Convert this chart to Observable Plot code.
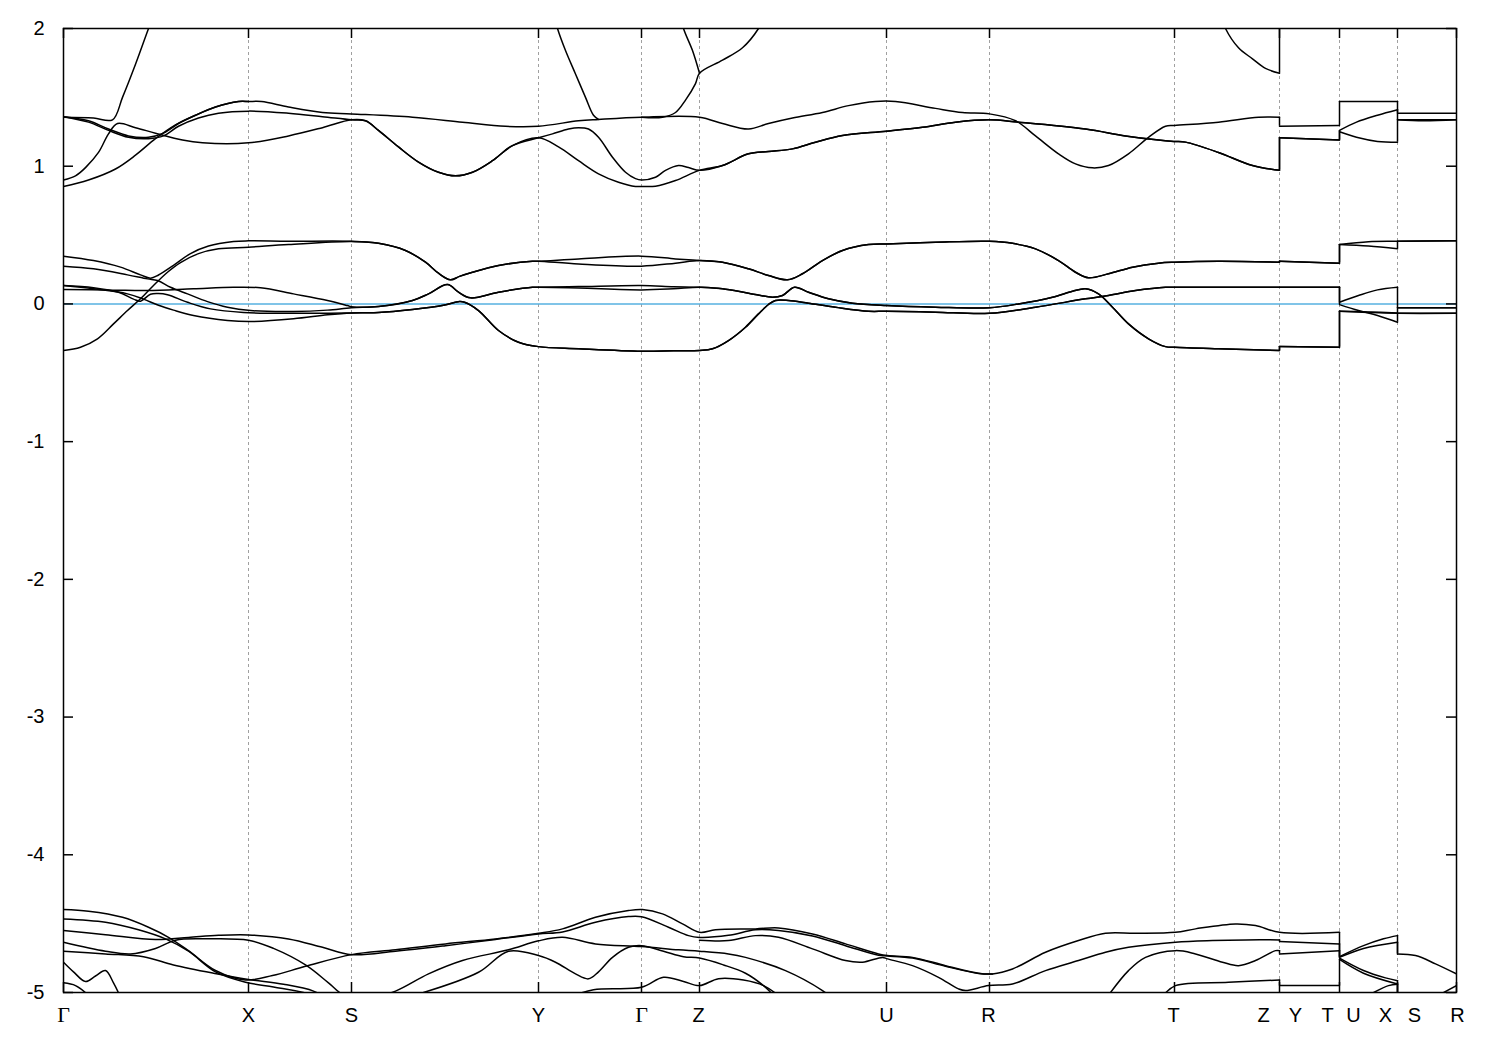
<!DOCTYPE html>
<html><head><meta charset="utf-8">
<script src="https://cdn.jsdelivr.net/npm/d3@7"></script>
<script src="https://cdn.jsdelivr.net/npm/@observablehq/plot@0.6"></script>
<style>body{margin:0;background:#fff}</style>
</head><body><div id="chart"></div>
<script>
// high-symmetry points along the path (path coordinate k)
const kTicks = [0, 1.85, 2.88, 4.75, 5.78, 6.36, 8.23, 9.26, 11.11, 12.16, 12.76, 13.34, 13.93];
const labelNames = ["Γ","X","S","Y","Γ","Z","U","R","T","Z","Y","T","U","X","S","R"];
const labelK = [0, 1.85, 2.88, 4.75, 5.78, 6.35, 8.23, 9.25, 11.10, 12.00, 12.32, 12.64, 12.90, 13.22, 13.51, 13.94];
const yTicks = [-5, -4, -3, -2, -1, 0, 1, 2];
const fermi = [0];

// shared pieces of the conduction bands
const cSYdip = [[3.02,1.33],[3.15,1.26],[3.35,1.14],[3.55,1.03],[3.75,0.956],[3.92,0.93],[4.09,0.956],[4.29,1.04],[4.49,1.15],[4.75,1.206]];
const cZUtoZ = [[6.59,1.005],[6.85,1.09],[7.05,1.107],[7.29,1.126],[7.52,1.174],[7.79,1.223],[8.23,1.254],[8.59,1.283],[8.92,1.32],[9.26,1.337],
  [9.55,1.32],[10.22,1.27],[10.62,1.22],[10.95,1.19],[11.11,1.18],[11.22,1.175],[11.55,1.10],[11.89,1.005],[12.16,0.97],
  [12.16,1.206],[12.76,1.19]];

const cbA = [[0,1.36],[0.25,1.33],[0.45,1.27],[0.65,1.22],[0.85,1.21],[1.0,1.24],[1.15,1.31],[1.32,1.37],[1.52,1.43],[1.75,1.47],[1.85,1.47],[1.98,1.47],[2.25,1.43],[2.59,1.39],[2.88,1.38],
  [3.49,1.356],[3.99,1.32],[4.42,1.29],[4.75,1.29],[5.15,1.33],[5.35,1.34],[5.78,1.356],
  [6.36,1.356],[6.59,1.31],[6.85,1.27],[7.05,1.31],[7.29,1.35],[7.59,1.39],[7.85,1.44],[8.12,1.47],[8.32,1.47],[8.72,1.42],[8.99,1.39],[9.26,1.38],
  [9.52,1.33],[9.72,1.22],[9.95,1.09],[10.12,1.017],[10.29,0.988],[10.45,1.005],[10.65,1.09],[10.85,1.21],[11.02,1.29],[11.11,1.296],[11.55,1.32],[11.95,1.356],[12.16,1.356],
  [12.16,1.29],[12.76,1.296],
  [12.76,1.47],[13.34,1.47],
  [13.34,1.385],[13.93,1.385]];
const cbB = [[0,1.36],[0.25,1.32],[0.45,1.26],[0.65,1.21],[0.85,1.20],[1.0,1.22],[1.15,1.29],[1.35,1.35],[1.55,1.385],[1.85,1.40],[2.25,1.385],[2.59,1.36],[2.88,1.337],
  ...cSYdip,
  [4.89,1.235],[5.05,1.27],[5.15,1.28],[5.25,1.27],[5.35,1.21],[5.49,1.065],[5.62,0.956],[5.72,0.91],[5.78,0.90],
  [5.92,0.92],[6.02,0.97],[6.15,1.005],[6.25,0.99],[6.36,0.97],
  ...cZUtoZ,
  [12.76,1.26],[12.93,1.32],[13.14,1.37],[13.34,1.41],
  [13.34,1.337],[13.6,1.33],[13.93,1.337]];
const cbC = [[0,0.90],[0.12,0.93],[0.22,0.99],[0.35,1.10],[0.45,1.235],[0.54,1.31],[0.72,1.28],[0.92,1.24],[1.19,1.19],[1.39,1.17],[1.85,1.17],[2.25,1.22],[2.59,1.28],[2.88,1.337],
  ...cSYdip,
  [4.95,1.14],[5.15,1.04],[5.35,0.945],[5.55,0.884],[5.72,0.853],[5.78,0.853],
  [5.92,0.855],[6.12,0.896],[6.36,0.97],
  ...cZUtoZ,
  [12.76,1.25],[12.93,1.21],[13.14,1.18],[13.34,1.174],
  [13.34,1.337],[13.93,1.337]];
const cbD = [[0,0.853],[0.25,0.90],[0.52,0.98],[0.72,1.08],[0.92,1.20],[1.12,1.30],[1.32,1.37],[1.52,1.43],[1.75,1.47],[1.85,1.47]];
const hi1 = [[0,1.356],[0.30,1.35],[0.49,1.337],[0.59,1.50],[0.72,1.74],[0.85,2.0],[0.93,2.16]];
const hi2 = [[4.87,2.2],[4.94,2.0],[5.02,1.84],[5.12,1.67],[5.22,1.50],[5.30,1.37],[5.35,1.34]];
const hi3 = [[5.78,1.356],[5.99,1.356],[6.12,1.39],[6.22,1.48],[6.32,1.60],[6.36,1.675],[6.59,1.77],[6.79,1.86],[6.95,2.0],[7.03,2.12]];
const hi4 = [[6.15,2.15],[6.20,2.0],[6.29,1.84],[6.36,1.675]];
const hi5 = [[11.55,2.15],[11.62,2.0],[11.75,1.86],[11.89,1.78],[12.02,1.71],[12.16,1.675],[12.16,2.3]];

// bands around the Fermi level
const vTopSYG = [[3.15,0.44],[3.42,0.388],[3.62,0.303],[3.75,0.223],[3.87,0.175],[3.96,0.20],[4.09,0.23],[4.35,0.279],[4.69,0.31],[4.75,0.31]];
const vTopZUR = [[6.59,0.303],[6.85,0.255],[7.05,0.206],[7.24,0.175],[7.39,0.219],[7.59,0.315],[7.79,0.388],[8.05,0.431],[8.23,0.436],[8.72,0.448],[9.26,0.455],
  [9.49,0.44],[9.72,0.40],[9.95,0.315],[10.12,0.23],[10.25,0.19],[10.45,0.219],[10.69,0.267],[10.95,0.296],[11.11,0.303],[11.55,0.31],[12.16,0.303],
  [12.16,0.31],[12.76,0.296]];
const vMidSYG = [[3.15,-0.019],[3.49,0.025],[3.65,0.073],[3.84,0.141],[3.95,0.085],[4.07,0.044],[4.35,0.085],[4.69,0.121],[4.75,0.121]];
const vMidZUR = [[6.59,0.11],[6.85,0.078],[7.09,0.049],[7.19,0.061],[7.31,0.121],[7.45,0.085],[7.65,0.037],[7.89,0.005],[8.23,-0.012],[8.72,-0.024],[9.26,-0.028],
  [9.55,0.0],[9.89,0.049],[10.09,0.092],[10.22,0.11],[10.35,0.073],[10.49,-0.024],[10.65,-0.145],[10.85,-0.253],[11.02,-0.31],[11.11,-0.315],[11.55,-0.326],[12.16,-0.338],
  [12.16,-0.31],[12.76,-0.315]];
const vLowSYG = [[3.15,-0.062],[3.49,-0.04],[3.80,-0.01],[3.96,0.017],[4.01,0.012],[4.15,-0.048],[4.35,-0.193],[4.55,-0.278],[4.75,-0.31],[5.15,-0.325],[5.78,-0.343]];
const vLowZUR = [[6.36,-0.338],[6.49,-0.326],[6.65,-0.266],[6.82,-0.169],[6.95,-0.072],[7.05,-0.004],[7.12,0.025],[7.25,0.025],[7.45,0.005],[7.72,-0.024],[8.05,-0.053],[8.23,-0.053],[8.72,-0.06],[9.26,-0.068],
  [9.72,-0.024],[10.22,0.037],[10.45,0.061],[10.72,0.097],[11.02,0.121],[11.11,0.121],[12.16,0.121],
  [12.76,0.121]];

const vb1 = [[0,0.347],[0.30,0.315],[0.57,0.267],[0.77,0.211],[0.87,0.187],[0.95,0.21],[1.10,0.28],[1.27,0.365],[1.45,0.42],[1.70,0.453],[1.85,0.458],[2.25,0.455],[2.88,0.455],
  ...vTopSYG,[5.15,0.327],[5.78,0.347],[6.12,0.327],[6.36,0.315],...vTopZUR,
  [12.76,0.431],[13.05,0.452],[13.34,0.455],[13.93,0.458]];
const vb3 = [[0,-0.338],[0.17,-0.314],[0.34,-0.253],[0.50,-0.145],[0.64,-0.048],[0.77,0.037],[0.90,0.134],[1.04,0.23],[1.17,0.30],[1.35,0.365],[1.55,0.40],[1.85,0.412],[2.25,0.431],[2.88,0.453],
  ...vTopSYG,[5.15,0.29],[5.78,0.274],[6.12,0.296],[6.36,0.315],...vTopZUR,
  [12.76,0.431],[13.05,0.42],[13.34,0.40],[13.34,0.455],[13.93,0.458]];
const vb2 = [[0,0.274],[0.30,0.255],[0.64,0.211],[0.84,0.182],[0.94,0.17],[1.07,0.121],[1.24,0.073],[1.44,0.017],[1.64,-0.024],[1.87,-0.048],[2.30,-0.055],[2.64,-0.045],[2.88,-0.028],
  ...vMidSYG,[5.15,0.115],[5.78,0.102],[6.1,0.11],[6.36,0.121],...vMidZUR,
  [12.76,-0.053],[13.05,-0.062],[13.34,-0.068],[13.93,-0.068]];
const vb5 = [[0,0.105],[0.5,0.10],[0.84,0.097],[1.30,0.11],[1.70,0.121],[1.97,0.117],[2.30,0.073],[2.64,0.025],[2.84,-0.012],[2.88,-0.02],
  ...vMidSYG,[5.15,0.126],[5.78,0.134],[6.1,0.125],[6.36,0.121],...vMidZUR,
  [12.76,-0.053],[13.05,-0.058],[13.34,-0.065],[13.34,-0.028],[13.93,-0.028]];
const vb4 = [[0,0.134],[0.30,0.11],[0.64,0.073],[0.80,0.035],[0.95,-0.01],[1.10,-0.045],[1.30,-0.084],[1.64,-0.12],[1.87,-0.128],[2.30,-0.108],[2.64,-0.079],[2.88,-0.065],
  ...vLowSYG,[6.1,-0.34],...vLowZUR,
  [12.76,0.012],[12.95,0.061],[13.14,0.102],[13.34,0.121],[13.34,-0.028],[13.93,-0.028]];
const vb6 = [[0,0.134],[0.30,0.118],[0.55,0.085],[0.70,0.035],[0.77,0.02],[0.87,0.07],[0.95,0.075],[1.04,0.066],[1.24,0.012],[1.47,-0.036],[1.80,-0.062],[2.30,-0.068],[2.88,-0.065],
  ...vLowSYG,[6.1,-0.34],...vLowZUR,
  [12.76,-0.005],[12.95,-0.048],[13.14,-0.084],[13.34,-0.133],[13.34,-0.068],[13.93,-0.068]];

// deep bands near -4.4 .. -5
const bA = [[0,-4.398],[0.25,-4.41],[0.59,-4.454],[0.85,-4.526],[1.05,-4.599],[1.25,-4.696],[1.52,-4.84],[1.82,-4.909],[2.09,-4.877],[2.42,-4.81],[2.88,-4.725],
  [3.32,-4.69],[3.82,-4.647],[4.32,-4.611],[4.75,-4.57],[4.99,-4.538],[5.32,-4.454],[5.65,-4.405],[5.79,-4.398],[5.99,-4.429],[6.19,-4.502],[6.36,-4.563],[6.52,-4.545],[6.92,-4.538],
  [7.15,-4.531],[7.49,-4.575],[7.82,-4.647],[8.15,-4.72],[8.24,-4.732],[8.49,-4.745],[8.82,-4.805],[9.15,-4.86],[9.29,-4.865],[9.49,-4.829],[9.82,-4.708],[10.15,-4.623],[10.42,-4.57],
  [10.72,-4.57],[11.12,-4.563],[11.32,-4.538],[11.72,-4.502],[11.92,-4.514],[12.16,-4.563],[12.76,-4.563],
  [12.76,-4.74],[13.0,-4.66],[13.2,-4.61],[13.34,-4.587],[13.34,-4.72],[13.52,-4.732],[13.72,-4.792],[13.93,-4.865]];
const bB = [[0,-4.466],[0.42,-4.49],[0.75,-4.545],[1.02,-4.611],[1.25,-4.70],[1.52,-4.85],[1.82,-4.925],[2.1,-4.96],[2.4,-5.0],[2.6,-5.05]];
const bC = [[0,-4.55],[0.42,-4.58],[0.92,-4.615],[1.25,-4.60],[1.55,-4.585],[1.85,-4.582],[2.25,-4.611],[2.59,-4.672],[2.88,-4.725],
  [3.32,-4.70],[3.82,-4.66],[4.32,-4.615],[4.75,-4.575],[4.99,-4.56],[5.32,-4.49],[5.65,-4.449],[5.78,-4.45],[6.05,-4.526],[6.25,-4.587],[6.36,-4.60],
  [6.65,-4.585],[6.92,-4.545],[7.15,-4.55],[7.49,-4.59],[7.82,-4.66],[8.15,-4.73],[8.24,-4.735],[8.49,-4.75],[8.82,-4.81],[9.15,-4.862],[9.29,-4.866]];
const bD = [[0,-4.635],[0.42,-4.70],[0.67,-4.72],[0.92,-4.68],[1.12,-4.62],[1.42,-4.61],[1.85,-4.62],[2.1,-4.68],[2.42,-4.80],[2.65,-4.93],[2.80,-5.02],[2.95,-5.06]];
const bE = [[3.0,-5.06],[3.32,-4.99],[3.65,-4.865],[3.99,-4.768],[4.45,-4.69],[4.75,-4.625],[4.99,-4.599],[5.32,-4.647],[5.78,-4.666],[6.15,-4.69],[6.36,-4.70],[6.65,-4.72],
  [6.82,-4.745],[7.22,-4.841],[7.59,-4.986],[7.7,-5.05]];
const bF = [[3.6,-5.0],[4.15,-4.853],[4.45,-4.70],[4.75,-4.732],[4.92,-4.78],[5.12,-4.865],[5.25,-4.901],[5.35,-4.85],[5.49,-4.745],[5.65,-4.672],[5.78,-4.66],[6.0,-4.70],
  [6.2,-4.74],[6.36,-4.75],[6.6,-4.80],[6.82,-4.86],[7.0,-4.95],[7.1,-5.02]];
const bG = [[0,-4.70],[0.42,-4.72],[0.8,-4.74],[1.1,-4.80],[1.5,-4.86],[1.85,-4.905],[2.2,-4.94],[2.5,-4.99],[2.65,-5.05]];
const bH = [[0,-4.78],[0.1,-4.85],[0.22,-4.92],[0.32,-4.88],[0.42,-4.84],[0.5,-4.93],[0.58,-5.05]];
const bI = [[0,-4.93],[0.12,-4.95],[0.25,-5.02]];
const bJ = [[5.0,-5.05],[5.3,-4.98],[5.78,-4.962],[6.0,-4.89],[6.2,-4.92],[6.36,-4.95],[6.55,-4.9],[6.8,-4.91],[7.0,-4.95],[7.2,-5.05]];
const bK = [[6.36,-4.62],[6.65,-4.623],[6.92,-4.587],[7.15,-4.599],[7.49,-4.683],[7.82,-4.768],[7.99,-4.78],[8.19,-4.745],[8.24,-4.756],[8.49,-4.805],[8.75,-4.89],
  [8.95,-4.974],[9.02,-4.986],[9.25,-4.95],[9.49,-4.938],[9.82,-4.841],[10.15,-4.768],[10.42,-4.708],[10.65,-4.672],[11.12,-4.635],[11.49,-4.623],[11.82,-4.618],[12.16,-4.618],
  [12.16,-4.63],[12.76,-4.647],[12.76,-4.745],[13.0,-4.68],[13.34,-4.635],[13.34,-4.72]];
const bL = [[10.45,-5.02],[10.65,-4.841],[10.82,-4.745],[11.12,-4.696],[11.32,-4.72],[11.59,-4.78],[11.75,-4.805],[11.92,-4.768],[12.12,-4.696],[12.16,-4.696],
  [12.16,-4.72],[12.76,-4.696],[12.76,-4.75],[13.0,-4.84],[13.22,-4.894],[13.34,-4.914],[13.34,-5.05]];
const bM = [[11.0,-5.02],[11.12,-4.95],[11.65,-4.926],[12.16,-4.909],[12.16,-4.95],[12.76,-4.95],[12.76,-4.76],[13.0,-4.86],[13.34,-4.938],[13.34,-5.05]];
const bN = [[13.05,-5.02],[13.25,-4.95],[13.34,-4.94]];
const bO = [[13.75,-5.02],[13.93,-4.95]];

const bands = {cbA, cbB, cbC, cbD, hi1, hi2, hi3, hi4, hi5, vb1, vb2, vb3, vb4, vb5, vb6,
  bA, bB, bC, bD, bE, bF, bG, bH, bI, bJ, bK, bL, bM, bN, bO};

// split every band at discontinuities (repeated k) into smooth pieces + vertical jumps
const lineRows = [], jumpRows = [];
for (const [name, pts] of Object.entries(bands)) {
  let seg = 0;
  pts.forEach((p, i) => {
    if (i > 0 && p[0] === pts[i - 1][0]) {
      jumpRows.push({k: p[0], e1: pts[i - 1][1], e2: p[1]});
      seg++;
    }
    lineRows.push({id: name + "-" + seg, k: p[0], e: p[1]});
  });
}
const labels = labelNames.map((n, i) => ({name: n, k: labelK[i]}));

const chart = Plot.plot({
  width: 1500,
  height: 1050,
  marginLeft: 63,
  marginRight: 44,
  marginTop: 28,
  marginBottom: 58,
  style: {fontFamily: "'Liberation Sans', Arial, sans-serif", fontSize: "20px", color: "black", background: "white", overflow: "visible"},
  x: {domain: [0, 13.93], axis: null},
  y: {domain: [-5, 2], axis: null},
  marks: [
    Plot.ruleX(kTicks.slice(1, -1), {stroke: "#a0a0a0", strokeWidth: 1, strokeDasharray: "3,3"}),
    Plot.ruleY(fermi, {stroke: "#56b0e0", strokeWidth: 1.5}),
    Plot.line(lineRows, {x: "k", y: "e", z: "id", curve: "catmull-rom", stroke: "black", strokeWidth: 1.5, clip: true}),
    Plot.ruleX(jumpRows, {x: "k", y1: "e1", y2: "e2", stroke: "black", strokeWidth: 1.5, clip: true}),
    Plot.tickX(kTicks, {x: d => d, insetTop: 954, stroke: "black", strokeWidth: 1.5}),
    Plot.tickX(kTicks, {x: d => d, insetBottom: 954, stroke: "black", strokeWidth: 1.5}),
    Plot.tickY(yTicks, {y: d => d, insetRight: 1383, stroke: "black", strokeWidth: 1.5}),
    Plot.tickY(yTicks, {y: d => d, insetLeft: 1383, stroke: "black", strokeWidth: 1.5}),
    Plot.frame({stroke: "black", strokeWidth: 1.5}),
    Plot.axisY(yTicks, {tickSize: 0, tickPadding: 19, tickFormat: d => String(d), fontSize: 20, label: null}),
    Plot.text(labels.filter(d => d.name !== "Γ"), {x: "k", text: "name", frameAnchor: "bottom", dy: 29, fontSize: 20}),
    Plot.text(labels.filter(d => d.name === "Γ"), {x: "k", text: "name", frameAnchor: "bottom", dy: 29, fontSize: 22, fontFamily: "'Liberation Serif', 'DejaVu Serif', serif"})
  ]
});
document.getElementById("chart").append(chart);
</script>
</body></html>
